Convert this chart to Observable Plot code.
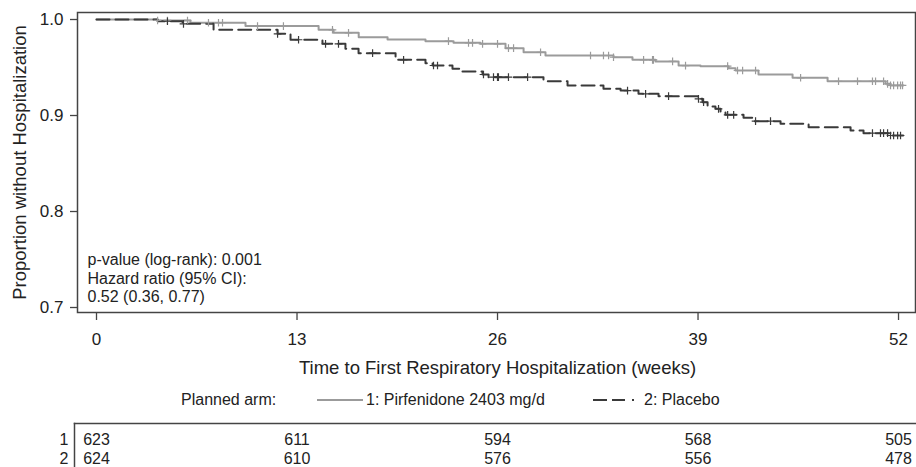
<!DOCTYPE html>
<html><head><meta charset="utf-8">
<script src="https://cdn.jsdelivr.net/npm/d3@7"></script>
<script src="https://cdn.jsdelivr.net/npm/@observablehq/plot@0.6"></script>
<style>
body{margin:0;background:#fff;}
#chart{position:relative;width:916px;height:467px;font-family:"Liberation Sans",Arial,sans-serif;color:#222;overflow:hidden;}
#main{position:absolute;left:0;top:0;}
#table{position:absolute;left:0;top:380px;}
.lg{position:absolute;top:390px;height:20px;line-height:20px;font-size:16px;white-space:nowrap;}
.lg svg{display:block;}
</style></head><body>
<div id="chart"><div id="main"></div><div id="legend"></div><div id="table"></div></div>
<script>
// ---- data ----
const weekTicks = [0, 13, 26, 39, 52];
const yTicks = [0.7, 0.8, 0.9, 1.0];
const legendTitle = "Planned arm:";
const armLabels = ["1: Pirfenidone 2403 mg/d", "2: Placebo"];
const armIds = ["1", "2"];
const annotationLines = ["p-value (log-rank): 0.001", "Hazard ratio (95% CI):", "0.52 (0.36, 0.77)"];
const xTitle = "Time to First Respiratory Hospitalization (weeks)";
const yTitle = "Proportion without Hospitalization";

const pirfTimes = [0, 3.96, 6.09, 9.66, 14.4, 15.37, 17.0, 18.87, 21.33, 23.15, 24.9, 26.52, 27.69, 29.11, 33.52, 34.75, 36.24, 37.74, 39.16, 40.98, 41.43, 42.92, 45.13, 47.4, 51.16, 51.48, 52.3];
const pirfSurv = [1.0, 0.999, 0.9966, 0.9932, 0.9893, 0.9861, 0.9816, 0.9792, 0.9774, 0.9757, 0.9747, 0.9701, 0.9659, 0.9625, 0.9607, 0.958, 0.9563, 0.952, 0.9514, 0.9493, 0.9469, 0.9427, 0.9393, 0.9357, 0.933, 0.9313, 0.9313];
const pirfCensor = [3.96, 4.6, 5.9, 7.26, 7.91, 8.17, 10.44, 12.12, 15.3, 16.34, 22.82, 24.12, 24.38, 25.03, 26.0, 26.71, 27.04, 28.79, 32.03, 32.87, 33.2, 33.52, 35.47, 36.05, 36.11, 37.35, 38.19, 40.92, 41.56, 41.89, 42.73, 45.65, 48.11, 49.34, 50.31, 50.51, 51.03, 51.29, 51.48, 51.68, 51.94, 52.13, 52.26];

const placTimes = [0, 3.96, 5.58, 7.59, 11.74, 12.58, 14.65, 16.14, 16.99, 19.39, 21.33, 21.79, 23.08, 23.6, 25.03, 25.42, 28.98, 30.54, 32.87, 33.98, 35.14, 36.44, 38.97, 39.29, 39.62, 40.13, 40.46, 40.78, 41.95, 42.6, 44.35, 46.17, 48.89, 49.73, 51.48, 52.3];
const placSurv = [1.0, 0.9982, 0.9955, 0.9893, 0.9851, 0.9789, 0.9747, 0.9695, 0.9649, 0.958, 0.9545, 0.9521, 0.9486, 0.9458, 0.9427, 0.9399, 0.9357, 0.9313, 0.9278, 0.926, 0.9226, 0.9201, 0.9174, 0.9139, 0.9094, 0.907, 0.9042, 0.9007, 0.8976, 0.8941, 0.8914, 0.8878, 0.8844, 0.8816, 0.8792, 0.8792];
const placCensor = [4.6, 5.64, 11.74, 13.1, 14.85, 15.69, 17.9, 19.91, 21.85, 22.11, 25.09, 25.74, 26.0, 26.06, 26.71, 27.95, 34.43, 35.6, 37.09, 39.03, 39.36, 40.33, 40.92, 41.31, 42.73, 43.7, 50.31, 50.83, 51.03, 51.29, 51.48, 51.68, 51.94, 52.13];

const riskArm1 = [623, 611, 594, 568, 505];
const riskArm2 = [624, 610, 576, 556, 478];

// ---- styles ----
const FONT = '"Liberation Sans", Arial, sans-serif';
const INK = "#222";
const AXIS = "#444";
const C1 = "#9b9b9b";
const C2 = "#3a3a3a";
const DASH = "13,6";

// ---- derived tables ----
const steps = (times, surv, arm) => times.map((t, i) => ({t, s: surv[i], arm}));
const lookup = (times, surv) => t => surv[d3.bisectRight(times, t) - 1];
const S1 = lookup(pirfTimes, pirfSurv), S2 = lookup(placTimes, placSurv);
const cens1 = pirfCensor.map(t => ({t, s: S1(t)}));
const cens2 = placCensor.map(t => ({t, s: S2(t)}));
const risk = [];
weekTicks.forEach((w, i) => {
  risk.push({t: w, arm: armIds[0], n: riskArm1[i]});
  risk.push({t: w, arm: armIds[1], n: riskArm2[i]});
});

const main = Plot.plot({
  width: 916, height: 380,
  marginLeft: 77, marginRight: 1, marginTop: 12, marginBottom: 68,
  style: {fontFamily: FONT, color: INK, background: "white", overflow: "visible"},
  x: {domain: [-1.232, 53.10]},
  y: {domain: [0.6948, 1.0073]},
  marks: [
    Plot.axisX(weekTicks, {tickSize: 8, tickPadding: 12, tickFormat: d => String(d), fontSize: 17, stroke: AXIS, strokeWidth: 1.3, label: null}),
    Plot.axisY(yTicks, {tickSize: 7, tickPadding: 7, tickFormat: d => d.toFixed(1), fontSize: 17, stroke: AXIS, strokeWidth: 1.3, label: null}),
    Plot.line(steps(pirfTimes, pirfSurv, 1), {x: "t", y: "s", curve: "step-after", stroke: C1, strokeWidth: 2}),
    Plot.line(steps(placTimes, placSurv, 2), {x: "t", y: "s", curve: "step-after", stroke: C2, strokeWidth: 2, strokeDasharray: DASH}),
    Plot.dot(cens1, {x: "t", y: "s", symbol: "plus", r: 2.6, stroke: C1, strokeWidth: 1.2}),
    Plot.dot(cens2, {x: "t", y: "s", symbol: "plus", r: 2.6, stroke: C2, strokeWidth: 1.2}),
    Plot.text([annotationLines.join("\n")], {frameAnchor: "bottom-left", text: d => d, textAnchor: "start", lineAnchor: "bottom", lineHeight: 1.15, dx: 10, dy: -10.5, fontSize: 16, fill: INK}),
    Plot.text([xTitle], {x: 26, frameAnchor: "bottom", text: d => d, textAnchor: "middle", lineAnchor: "bottom", dy: 61, fontSize: 18.5, fill: INK}),
    Plot.text([yTitle], {frameAnchor: "left", text: d => d, rotate: -90, textAnchor: "middle", lineAnchor: "bottom", dx: -52, fontSize: 18.5, fill: INK}),
    Plot.frame({stroke: AXIS, strokeWidth: 1.5})
  ]
});
document.getElementById("main").appendChild(main);

// ---- legend ----
const lg = document.getElementById("legend");
const piece = (left, html) => { const d = document.createElement("div"); d.className = "lg"; d.style.left = left + "px"; d.innerHTML = html; lg.appendChild(d); };
piece(181, legendTitle);
piece(317, `<svg width="46" height="20"><line x1="0" x2="46" y1="10" y2="10" stroke="${C1}" stroke-width="2"/></svg>`);
piece(366, armLabels[0]);
piece(593, `<svg width="42" height="20"><line x1="0" x2="42" y1="10" y2="10" stroke="${C2}" stroke-width="2" stroke-dasharray="14,5,13,7,2,40"/></svg>`);
piece(644, armLabels[1]);

// ---- number at risk table ----
const table = Plot.plot({
  width: 916, height: 87,
  marginLeft: 74, marginRight: 0, marginTop: 43, marginBottom: 0,
  style: {fontFamily: FONT, color: INK, background: "transparent", overflow: "visible"},
  x: {domain: [-1.4265, 53.167], axis: null},
  y: {type: "point", domain: armIds, range: [58.8, 78], padding: 0, axis: null},
  marks: [
    Plot.axisY(armIds, {tickSize: 0, tickPadding: 6, fontSize: 16, label: null}),
    Plot.text(risk, {x: "t", y: "arm", text: d => String(d.n), fontSize: 16, fill: INK}),
    Plot.frame({anchor: "left", stroke: AXIS, strokeWidth: 1.5}),
    Plot.frame({anchor: "top", stroke: AXIS, strokeWidth: 1.5})
  ]
});
document.getElementById("table").appendChild(table);
</script>
</body></html>
